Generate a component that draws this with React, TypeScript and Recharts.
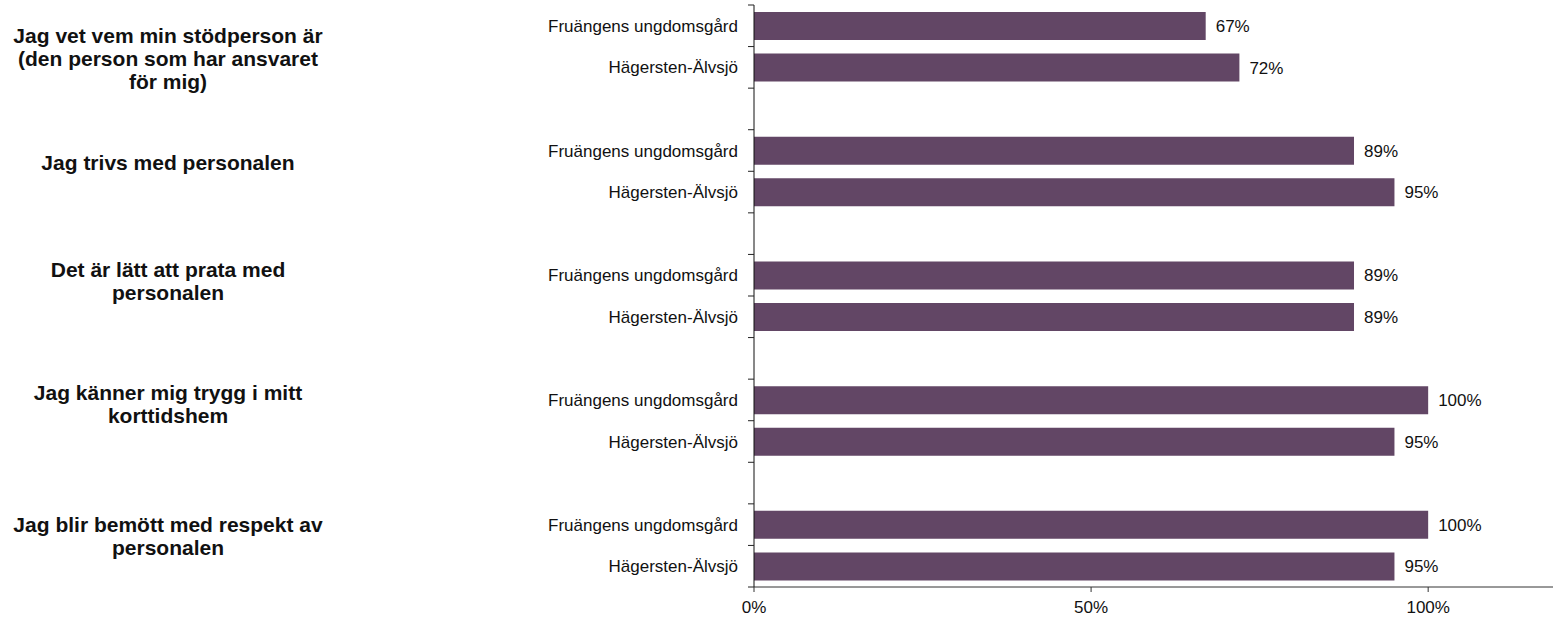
import React from "react";
import { Bar, BarChart, LabelList, XAxis, YAxis } from "recharts";

// questions, one entry per group, split on the lines shown in the chart
const questions: string[][] = [
    ["Jag vet vem min stödperson är", "(den person som har ansvaret", "för mig)"],
    ["Jag trivs med personalen"],
    ["Det är lätt att prata med", "personalen"],
    ["Jag känner mig trygg i mitt", "korttidshem"],
    ["Jag blir bemött med respekt av", "personalen"],
];

const units = ["Fruängens ungdomsgård", "Hägersten-Älvsjö"];

// percent answering yes
const fruangenValues = [67, 89, 89, 100, 100];
const hagerstenValues = [72, 95, 89, 95, 95];

const xTicks = [0, 50, 100];

type Row = { key: string; name: string; value: number | null; group: number };

// bars per group with an empty slot between groups
const rows: Row[] = [];
questions.forEach((_, i) => {
    if (i > 0) rows.push({ key: `gap${i}`, name: "", value: null, group: -1 });
    rows.push({ key: `f${i}`, name: units[0], value: fruangenValues[i], group: i });
    rows.push({ key: `h${i}`, name: units[1], value: hagerstenValues[i], group: -1 });
});

const FONT = "'Liberation Sans', Arial, sans-serif";
const AXIS_X = 754;
const TOP = 5;
const X_AXIS_H = 30;
const HEIGHT = 617;
const BAND = (HEIGHT - TOP - X_AXIS_H) / rows.length;
// baseline of first label line, relative to the group's middle
const labelShift = [-4, -1, -19, -21, -13];

function CategoryTick(props: any) {
    const { y, index } = props;
    const row = rows[index];
    const isLast = index === rows.length - 1;
    return (
        <g>
            <line x1={AXIS_X - 6} x2={AXIS_X} y1={y - BAND / 2} y2={y - BAND / 2} stroke="#222" />
            {isLast && (
                <line x1={AXIS_X - 6} x2={AXIS_X} y1={y + BAND / 2} y2={y + BAND / 2} stroke="#222" />
            )}
            {row.name && (
                <text x={AXIS_X - 16} y={y} dy={6} textAnchor="end" fontSize={17} fontFamily={FONT} fill="#111">
                    {row.name}
                </text>
            )}
            {row.group >= 0 && (
                <text
                    x={168}
                    y={y + BAND / 2 + labelShift[row.group]}
                    textAnchor="middle"
                    fontSize={21}
                    fontWeight="bold"
                    fontFamily={FONT}
                    fill="#111"
                >
                    {questions[row.group].map((line, j) => (
                        <tspan key={j} x={168} dy={j === 0 ? 0 : 23}>
                            {line}
                        </tspan>
                    ))}
                </text>
            )}
        </g>
    );
}

export default function App() {
    return (
        <div style={{ position: "absolute", left: 0, top: 0, width: 1553, height: 617, overflow: "hidden", background: "#fff" }}>
            <BarChart
                width={1563}
                height={HEIGHT}
                data={rows}
                layout="vertical"
                margin={{ top: TOP, right: 0, bottom: 0, left: 0 }}
                barCategoryGap={0}
            >
                <XAxis
                    type="number"
                    domain={[0, 120]}
                    ticks={xTicks}
                    tickFormatter={(v) => `${v}%`}
                    height={X_AXIS_H}
                    stroke="#333"
                    tickSize={5}
                    tickMargin={9}
                    tick={{ fontSize: 17, fontFamily: FONT, fill: "#111" }}
                />
                <YAxis
                    type="category"
                    dataKey="key"
                    width={AXIS_X}
                    stroke="#111"
                    tickLine={false}
                    interval={0}
                    tick={<CategoryTick />}
                />
                <Bar dataKey="value" fill="#624665" barSize={28} isAnimationActive={false}>
                    <LabelList
                        dataKey="value"
                        position="right"
                        offset={10}
                        formatter={(v: any) => (v == null ? "" : `${v}%`)}
                        style={{ fontSize: 17, fontFamily: FONT, fill: "#111" }}
                    />
                </Bar>
            </BarChart>
        </div>
    );
}
